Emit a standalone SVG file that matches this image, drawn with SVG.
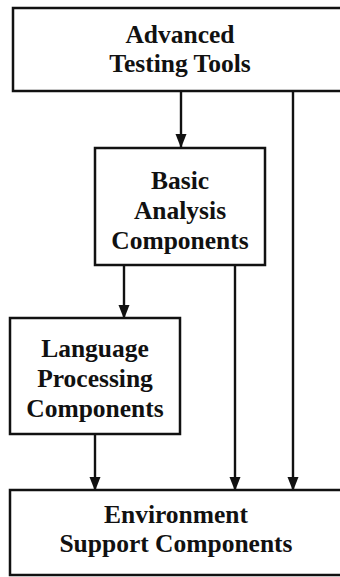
<svg xmlns="http://www.w3.org/2000/svg" width="340" height="577" viewBox="0 0 340 577">
<style>
.box{fill:#fff;stroke:#111;stroke-width:2.5}
.t{font-family:"Liberation Serif","DejaVu Serif",serif;font-size:25.5px;font-weight:bold;fill:#111;text-anchor:middle}
.c{stroke:#111;stroke-width:2.4;fill:none}
</style>
<defs>
<marker id="ah" viewBox="0 0 14 12" refX="14" refY="6" markerWidth="14" markerHeight="12" markerUnits="userSpaceOnUse" orient="auto">
<path d="M0,0.5 L14,6 L0,11.5 Z" fill="#111"/>
</marker>
</defs>
<rect width="340" height="577" fill="#fff"/>
<g id="connectors">
<line class="c" x1="181" y1="91" x2="181" y2="148" marker-end="url(#ah)"/>
<line class="c" x1="293" y1="91" x2="293" y2="491" marker-end="url(#ah)"/>
<line class="c" x1="124" y1="265" x2="124" y2="319" marker-end="url(#ah)"/>
<line class="c" x1="235" y1="265" x2="235" y2="491" marker-end="url(#ah)"/>
<line class="c" x1="95" y1="434" x2="95" y2="491" marker-end="url(#ah)"/>
</g>
<g id="advanced">
<rect class="box" x="13" y="8" width="340" height="83"/>
<text class="t" x="180" y="43">Advanced</text>
<text class="t" x="180" y="72">Testing Tools</text>
</g>
<g id="basic">
<rect class="box" x="95" y="148" width="170" height="117"/>
<text class="t" x="180" y="189">Basic</text>
<text class="t" x="180" y="219">Analysis</text>
<text class="t" x="180" y="249">Components</text>
</g>
<g id="language">
<rect class="box" x="10" y="318" width="170" height="116"/>
<text class="t" x="95" y="357">Language</text>
<text class="t" x="95" y="387">Processing</text>
<text class="t" x="95" y="417">Components</text>
</g>
<g id="environment">
<rect class="box" x="10" y="490" width="340" height="85"/>
<text class="t" x="176" y="523">Environment</text>
<text class="t" x="176" y="552">Support Components</text>
</g>
</svg>
